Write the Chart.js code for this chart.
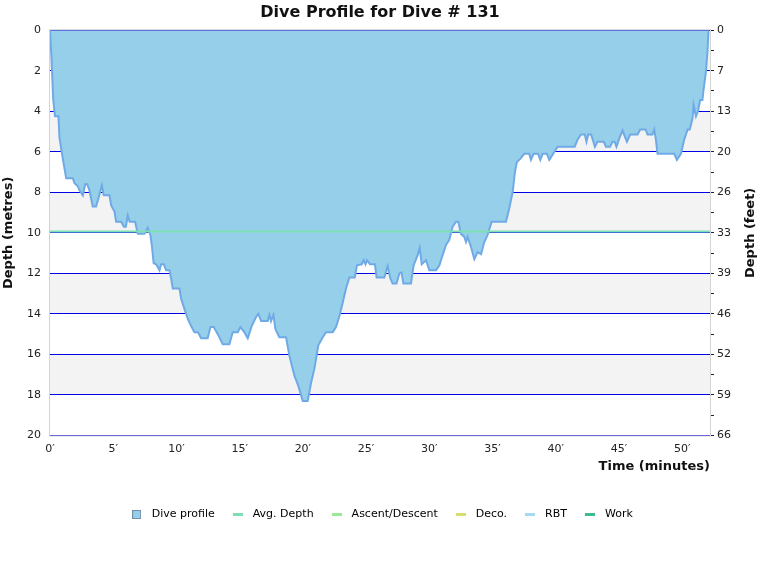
<!DOCTYPE html>
<html>
<head>
<meta charset="utf-8">
<title>Dive Profile for Dive # 131</title>
<script src="https://cdn.jsdelivr.net/npm/chart.js@4.4.1/dist/chart.umd.min.js"></script>
<style>
  body { margin: 0; background: #fff; }
  #wrap { width: 760px; height: 580px; }
</style>
</head>
<body>
<div id="wrap"><canvas id="myChart" width="760" height="580"></canvas></div>
<script>
// dive profile (minutes / metres)
const diveTime = [0, 0.12, 0.25, 0.4, 0.67, 0.75, 1.0, 1.28, 1.8, 1.94, 2.2, 2.33, 2.6, 2.78, 2.94, 3.12, 3.38, 3.64, 3.83, 4.1,
  4.25, 4.7, 4.84, 5.1, 5.23, 5.63, 5.84, 6.0, 6.15, 6.3, 6.73, 6.94, 7.47, 7.73, 7.94, 8.05, 8.2, 8.4, 8.66, 8.79,
  9.0, 9.18, 9.45, 9.58, 9.71, 10.24, 10.37, 10.63, 10.9, 11.16, 11.42, 11.7, 11.95, 12.47, 12.69, 12.95, 13.27, 13.66, 14.19, 14.45,
  14.85, 15.06, 15.37, 15.64, 15.95, 16.3, 16.48, 16.7, 17.22, 17.35, 17.48, 17.67, 17.83, 18.14, 18.67, 18.93, 19.33, 19.64, 19.99, 20.38,
  20.65, 20.91, 21.22, 21.57, 21.83, 22.36, 22.62, 22.89, 23.15, 23.41, 23.68, 24.1, 24.28, 24.65, 24.81, 24.95, 25.07, 25.31, 25.7, 25.83,
  26.44, 26.7, 26.92, 27.1, 27.4, 27.63, 27.8, 27.95, 28.55, 28.76, 29.08, 29.24, 29.4, 29.74, 30.0, 30.53, 30.8, 30.92, 31.32, 31.58,
  31.84, 32.11, 32.3, 32.5, 32.77, 32.9, 33.03, 33.3, 33.56, 33.82, 34.09, 34.35, 34.61, 34.93, 36.06, 36.32, 36.59, 36.77, 36.93, 37.19,
  37.51, 37.9, 38.04, 38.25, 38.6, 38.78, 38.96, 39.3, 39.49, 39.75, 40.14, 41.5, 41.72, 41.99, 42.3, 42.43, 42.57, 42.8, 43.1, 43.3,
  43.8, 43.97, 44.3, 44.49, 44.65, 44.8, 45.02, 45.28, 45.63, 45.89, 46.47, 46.68, 47.1, 47.26, 47.65, 47.79, 47.92, 48.05, 49.37, 49.58,
  49.9, 50.16, 50.43, 50.6, 50.82, 50.9, 51.09, 51.27, 51.42, 51.6, 51.69, 51.88, 52.0, 52.08];
const diveDepth = [0, 1.4, 3.4, 4.25, 4.25, 5.3, 6.3, 7.3, 7.3, 7.55, 7.7, 7.9, 8.15, 7.6, 7.6, 7.9, 8.7, 8.7, 8.3, 7.65,
  8.15, 8.15, 8.65, 8.95, 9.45, 9.45, 9.7, 9.7, 9.15, 9.45, 9.45, 10.05, 10.05, 9.75, 10.1, 10.6, 11.5, 11.55, 11.85, 11.55,
  11.55, 11.85, 11.85, 12.25, 12.75, 12.75, 13.25, 13.75, 14.25, 14.6, 14.9, 14.9, 15.2, 15.2, 14.65, 14.65, 15.0, 15.5, 15.5, 14.9,
  14.9, 14.65, 14.9, 15.2, 14.6, 14.15, 14.0, 14.35, 14.35, 14.05, 14.35, 14.05, 14.75, 15.15, 15.15, 16.05, 17.05, 17.55, 18.3, 18.3,
  17.4, 16.7, 15.55, 15.15, 14.9, 14.9, 14.65, 14.1, 13.45, 12.75, 12.2, 12.2, 11.6, 11.55, 11.35, 11.55, 11.35, 11.55, 11.55, 12.2,
  12.2, 11.65, 12.25, 12.5, 12.5, 12.0, 11.95, 12.5, 12.5, 11.6, 11.1, 10.75, 11.55, 11.35, 11.85, 11.85, 11.6, 11.35, 10.6, 10.35,
  9.7, 9.45, 9.45, 10.05, 10.2, 10.45, 10.2, 10.7, 11.3, 10.95, 11.05, 10.45, 10.1, 9.45, 9.45, 8.8, 8.0, 7.0, 6.5, 6.35,
  6.1, 6.1, 6.4, 6.1, 6.1, 6.4, 6.1, 6.1, 6.4, 6.15, 5.75, 5.75, 5.4, 5.15, 5.15, 5.5, 5.15, 5.15, 5.75, 5.5,
  5.5, 5.75, 5.75, 5.5, 5.5, 5.75, 5.35, 4.95, 5.5, 5.15, 5.15, 4.9, 4.9, 5.15, 5.15, 4.9, 5.4, 6.1, 6.1, 6.4,
  6.1, 5.4, 4.9, 4.9, 4.35, 3.7, 4.25, 3.95, 3.45, 3.45, 2.95, 2.05, 1.05, 0];
const avgDepth = 9.93;

const timeMax = 52.2;
const depthMax = 20;
const timeTicks = ["0′", "5′", "10′", "15′", "20′", "25′", "30′", "35′", "40′", "45′", "50′"];
const metreTicks = ["0", "2", "4", "6", "8", "10", "12", "14", "16", "18", "20"];
const feetTicks = ["0", "7", "13", "20", "26", "33", "39", "46", "52", "59", "66"];

const seriesNames = ["Dive profile", "Avg. Depth", "Ascent/Descent", "Deco.", "RBT", "Work"];
const seriesColors = ["#96cfe9", "#7de0b4", "#98ea98", "#d6de72", "#a6daf2", "#3dbb90"];

const FONT = "'DejaVu Sans', Verdana, sans-serif";

// small legend markers: a framed square for the profile, dashes for the rest
function legendMarker(i) {
  const m = document.createElement('canvas');
  const c = m.getContext('2d');
  if (i == 0) {
    m.width = 9; m.height = 9;
    c.fillStyle = seriesColors[0];
    c.fillRect(0, 0, 9, 9);
    c.strokeStyle = '#7590a6';
    c.lineWidth = 1;
    c.strokeRect(0.5, 0.5, 8, 8);
  } else {
    m.width = 10; m.height = 3;
    c.fillStyle = seriesColors[i];
    c.fillRect(0, 0, 10, 3);
  }
  return m;
}

// grey bands, plot frame and the right hand axis title
const decorPlugin = {
  id: 'decor',
  beforeDraw(chart) {
    const c = chart.ctx, a = chart.chartArea, y = chart.scales.y;
    c.save();
    c.fillStyle = '#f3f3f3';
    for (let d = 0; d < depthMax; d += 4) {
      const top = y.getPixelForValue(d);
      const bot = y.getPixelForValue(d + 2);
      c.fillRect(a.left, top, a.right - a.left, bot - top);
    }
    c.restore();
  },
  afterDraw(chart) {
    const c = chart.ctx, a = chart.chartArea;
    c.save();
    c.strokeStyle = '#d4d4d4';
    c.lineWidth = 1;
    c.strokeRect(a.left - 0.5, a.top - 0.5, a.right - a.left + 1, a.bottom - a.top + 1);
    c.translate(chart.width - 9, (a.top + a.bottom) / 2);
    c.rotate(-Math.PI / 2);
    c.font = "bold 13px " + FONT;
    c.fillStyle = '#111';
    c.textAlign = 'center';
    c.textBaseline = 'middle';
    c.fillText('Depth (feet)', 0, 0);
    c.restore();
  }
};

const profile = diveTime.map(function (t, i) { return { x: t, y: diveDepth[i] }; });

const datasets = [{
  label: seriesNames[0],
  data: profile,
  borderColor: '#6faae6',
  backgroundColor: seriesColors[0],
  borderWidth: 2,
  pointRadius: 0,
  fill: { value: 0 },
  order: 1
}, {
  label: seriesNames[1],
  data: [{ x: 0, y: avgDepth }, { x: timeMax, y: avgDepth }],
  borderColor: seriesColors[1],
  borderWidth: 2,
  pointRadius: 0,
  fill: false,
  order: 0
}];
for (let i = 2; i < seriesNames.length; i++) {
  datasets.push({ label: seriesNames[i], data: [], borderColor: seriesColors[i], borderWidth: 2, pointRadius: 0, order: 0 });
}

Chart.defaults.font.family = FONT;
Chart.defaults.color = '#222';

const ctx = document.getElementById('myChart');
new Chart(ctx, {
  type: 'line',
  data: { datasets: datasets },
  plugins: [decorPlugin],
  options: {
    responsive: false,
    animation: false,
    layout: { padding: { left: 0, right: 0, top: 0, bottom: 50 } },
    plugins: {
      title: {
        display: true,
        text: 'Dive Profile for Dive # 131',
        color: '#111',
        font: { size: 16, weight: 'bold' },
        padding: { top: 3, bottom: 8 }
      },
      legend: {
        position: 'bottom',
        labels: {
          usePointStyle: true,
          pointStyleWidth: 19,
          boxHeight: 9,
          padding: 13.5,
          color: '#222',
          font: { size: 11 },
          sort: function (a, b) { return a.datasetIndex - b.datasetIndex; },
          generateLabels: function (chart) {
            return seriesNames.map(function (name, i) {
              return {
                text: name,
                datasetIndex: i,
                fillStyle: seriesColors[i],
                strokeStyle: seriesColors[i],
                lineWidth: 0,
                pointStyle: legendMarker(i),
                hidden: false
              };
            });
          }
        }
      },
      tooltip: { enabled: false }
    },
    scales: {
      x: {
        type: 'linear',
        min: 0,
        max: timeMax,
        grid: { display: false, drawTicks: false },
        border: { display: false },
        ticks: {
          stepSize: 5,
          includeBounds: false,
          autoSkip: false,
          maxRotation: 0,
          padding: 7,
          font: { size: 11 },
          callback: function (v) { return timeTicks[v / 5]; }
        },
        title: {
          display: true,
          text: 'Time (minutes)',
          align: 'end',
          color: '#111',
          font: { size: 13, weight: 'bold' },
          padding: { top: 0, bottom: 21 }
        },
        afterFit: function (s) { s.height = 60; }
      },
      y: {
        type: 'linear',
        position: 'left',
        min: 0,
        max: depthMax,
        reverse: true,
        grid: { drawTicks: false, lineWidth: 1, color: '#0000e6' },
        border: { display: false },
        ticks: {
          stepSize: 2,
          autoSkip: false,
          padding: 9,
          font: { size: 11 },
          callback: function (v) { return metreTicks[v / 2]; }
        },
        title: {
          display: true,
          text: 'Depth (metres)',
          color: '#111',
          font: { size: 13, weight: 'bold' },
          padding: { top: 1, bottom: 0 }
        },
        afterFit: function (s) { s.width = 50; }
      },
      y2: {
        type: 'linear',
        position: 'right',
        min: 0,
        max: depthMax,
        reverse: true,
        grid: { drawOnChartArea: false, color: '#222', tickLength: 4 },
        border: { display: false },
        ticks: {
          stepSize: 1,
          autoSkip: false,
          padding: 3,
          font: { size: 11 },
          callback: function (v) { return v % 2 == 0 ? feetTicks[v / 2] : ''; }
        },
        afterFit: function (s) { s.width = 50; }
      }
    }
  }
});
</script>
</body>
</html>
